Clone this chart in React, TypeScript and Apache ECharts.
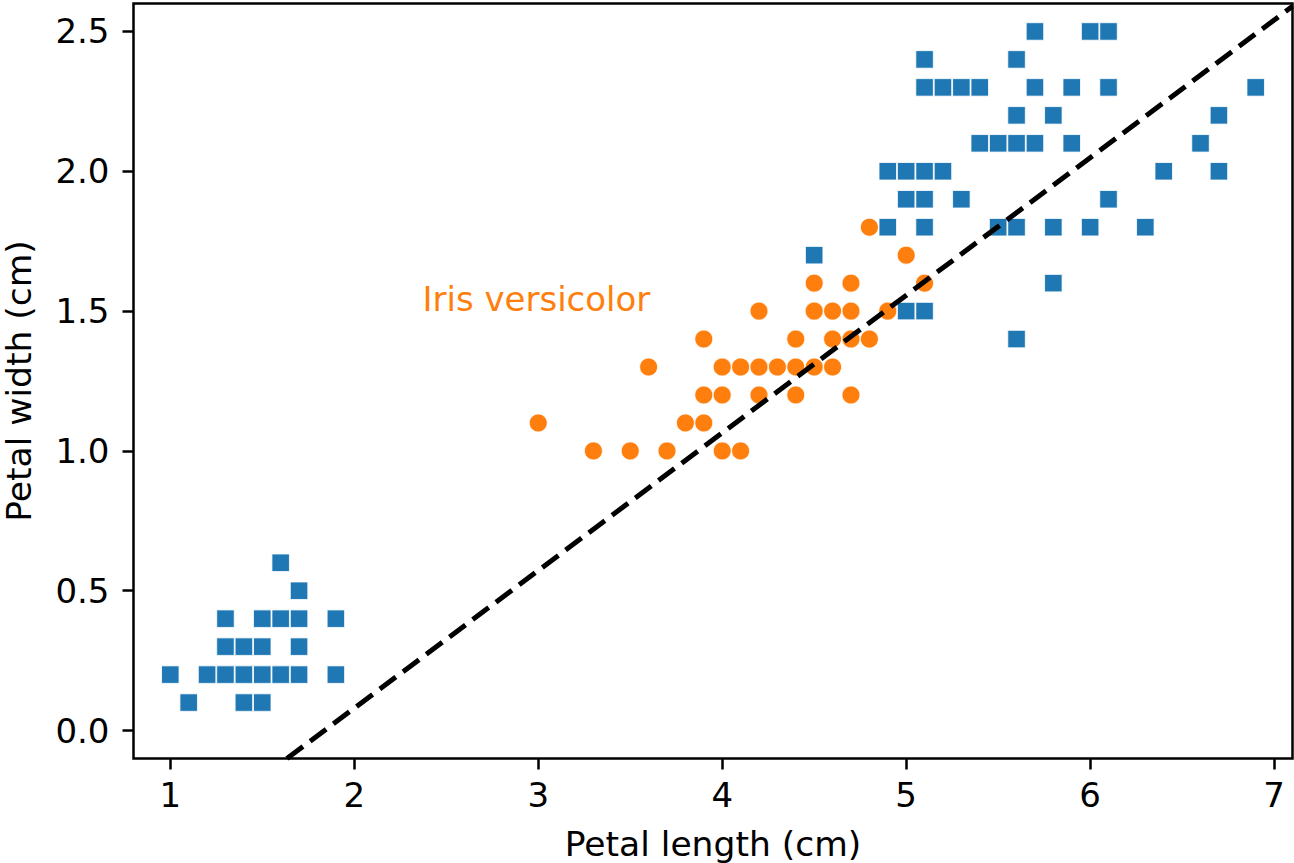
import React, { useEffect, useRef } from "react";
import * as echarts from "echarts";

// Iris setosa (petal length, petal width)
const setosa: number[][] = [
  [1.4, 0.2], [1.4, 0.2], [1.3, 0.2], [1.5, 0.2], [1.4, 0.2], [1.7, 0.4], [1.4, 0.3], [1.5, 0.2],
  [1.4, 0.2], [1.5, 0.1], [1.5, 0.2], [1.6, 0.2], [1.4, 0.1], [1.1, 0.1], [1.2, 0.2], [1.5, 0.4],
  [1.3, 0.4], [1.4, 0.3], [1.7, 0.3], [1.5, 0.3], [1.7, 0.2], [1.5, 0.4], [1.0, 0.2], [1.7, 0.5],
  [1.9, 0.2], [1.6, 0.2], [1.6, 0.4], [1.5, 0.2], [1.4, 0.2], [1.6, 0.2], [1.6, 0.2], [1.5, 0.4],
  [1.5, 0.1], [1.4, 0.2], [1.5, 0.2], [1.2, 0.2], [1.3, 0.2], [1.4, 0.1], [1.3, 0.2], [1.5, 0.2],
  [1.3, 0.3], [1.3, 0.3], [1.3, 0.2], [1.6, 0.6], [1.9, 0.4], [1.4, 0.3], [1.6, 0.2], [1.4, 0.2],
  [1.5, 0.2], [1.4, 0.2],
];

// Iris virginica (petal length, petal width)
const virginica: number[][] = [
  [6.0, 2.5], [5.1, 1.9], [5.9, 2.1], [5.6, 1.8], [5.8, 2.2], [6.6, 2.1], [4.5, 1.7], [6.3, 1.8],
  [5.8, 1.8], [6.1, 2.5], [5.1, 2.0], [5.3, 1.9], [5.5, 2.1], [5.0, 2.0], [5.1, 2.4], [5.3, 2.3],
  [5.5, 1.8], [6.7, 2.2], [6.9, 2.3], [5.0, 1.5], [5.7, 2.3], [4.9, 2.0], [6.7, 2.0], [4.9, 1.8],
  [5.7, 2.1], [6.0, 1.8], [5.6, 2.1], [5.8, 1.6], [6.1, 1.9], [6.4, 2.0], [5.6, 2.2], [5.1, 1.5],
  [5.6, 1.4], [6.1, 2.3], [5.6, 2.4], [5.5, 1.8], [5.4, 2.1], [5.1, 2.3], [5.9, 2.3], [5.7, 2.5],
  [5.2, 2.3], [5.0, 1.9], [5.2, 2.0], [5.4, 2.3], [5.1, 1.8],
];

// Iris versicolor (petal length, petal width)
const versicolor: number[][] = [
  [4.7, 1.4], [4.5, 1.5], [4.9, 1.5], [4.0, 1.3], [4.6, 1.5], [4.5, 1.3], [4.7, 1.6], [3.3, 1.0],
  [4.6, 1.3], [3.9, 1.4], [3.5, 1.0], [4.2, 1.5], [4.0, 1.0], [4.7, 1.4], [3.6, 1.3], [4.4, 1.4],
  [4.5, 1.5], [4.1, 1.0], [4.5, 1.5], [3.9, 1.1], [4.8, 1.8], [4.0, 1.3], [4.9, 1.5], [4.7, 1.2],
  [4.3, 1.3], [4.4, 1.4], [4.8, 1.4], [5.0, 1.7], [4.5, 1.5], [3.5, 1.0], [3.8, 1.1], [3.7, 1.0],
  [3.9, 1.2], [5.1, 1.6], [4.5, 1.5], [4.5, 1.6], [4.7, 1.5], [4.4, 1.3], [4.1, 1.3], [4.0, 1.3],
  [4.4, 1.2], [4.6, 1.4], [4.0, 1.2], [3.3, 1.0], [4.2, 1.3], [4.2, 1.2], [4.2, 1.3], [4.3, 1.3],
  [3.0, 1.1], [4.1, 1.3],
];

// Decision boundary endpoints
const boundary: number[][] = [
  [1.634, -0.1],
  [7.1, 2.59],
];

const xTicks = [1, 2, 3, 4, 5, 6, 7];
const yTicks = [0, 0.5, 1.0, 1.5, 2.0, 2.5];

const labelPoint = [2.99, 1.542];
const labelText = "Iris versicolor";

const FONT = "DejaVu Sans";

export default function App() {
  const ref = useRef<HTMLDivElement>(null);

  useEffect(() => {
    if (!ref.current) return;
    const chart = echarts.init(ref.current, null, { renderer: "svg" });
    const blue = [...setosa, ...virginica];

    chart.setOption({
      animation: false,
      backgroundColor: "#ffffff",
      grid: {
        left: 133.5,
        right: 1.5,
        top: 3.5,
        bottom: 104.5,
        containLabel: false,
        outerBoundsMode: "none",
        show: true,
        borderColor: "#000",
        borderWidth: 2.5,
        backgroundColor: "transparent",
      },
      xAxis: {
        type: "value",
        min: 0.8,
        max: 7.1,
        name: "Petal length (cm)",
        nameLocation: "middle",
        nameGap: 68,
        nameTextStyle: { fontFamily: FONT, fontSize: 34.5, color: "#000" },
        axisLine: { show: false, onZero: false },
        splitLine: { show: false },
        axisTick: {
          show: true,
          inside: false,
          length: 11,
          lineStyle: { color: "#000", width: 2.5 },
          customValues: xTicks,
        },
        axisLabel: {
          show: true,
          margin: 19,
          fontFamily: FONT,
          fontSize: 34,
          color: "#000",
          customValues: xTicks,
          formatter: (v: number) => String(Math.round(v)),
        },
      },
      yAxis: {
        type: "value",
        min: -0.1,
        max: 2.6,
        name: "Petal width (cm)",
        nameLocation: "middle",
        nameGap: 97,
        nameTextStyle: { fontFamily: FONT, fontSize: 34.5, color: "#000" },
        axisLine: { show: false, onZero: false },
        splitLine: { show: false },
        axisTick: {
          show: true,
          inside: false,
          length: 11,
          lineStyle: { color: "#000", width: 2.5 },
          customValues: yTicks,
        },
        axisLabel: {
          show: true,
          margin: 24,
          fontFamily: FONT,
          fontSize: 34,
          color: "#000",
          customValues: yTicks,
          formatter: (v: number) => v.toFixed(1),
        },
      },
      series: [
        {
          type: "scatter",
          data: blue,
          symbol: "rect",
          symbolSize: 17.5,
          itemStyle: { color: "#1f77b4", borderColor: "#ffffff", borderWidth: 0.8, opacity: 1 },
          z: 2,
        },
        {
          type: "scatter",
          data: versicolor,
          symbol: "circle",
          symbolSize: 18,
          itemStyle: { color: "#ff7f0e", borderColor: "#ffffff", borderWidth: 0.8, opacity: 1 },
          z: 3,
        },
        {
          type: "line",
          data: boundary,
          symbol: "none",
          clip: true,
          lineStyle: { color: "#000", width: 5, type: [20, 9] },
          z: 4,
        },
        {
          type: "scatter",
          data: [labelPoint],
          symbolSize: 0,
          silent: true,
          itemStyle: { opacity: 1 },
          label: {
            show: true,
            position: "inside",
            formatter: labelText,
            fontFamily: FONT,
            fontSize: 34,
            color: "#ff7f0e",
          },
          z: 5,
        },
      ],
    });

    return () => chart.dispose();
  }, []);

  return (
    <div
      ref={ref}
      style={{ position: "fixed", left: 0, top: 0, width: 1294, height: 863, background: "#fff" }}
    />
  );
}
